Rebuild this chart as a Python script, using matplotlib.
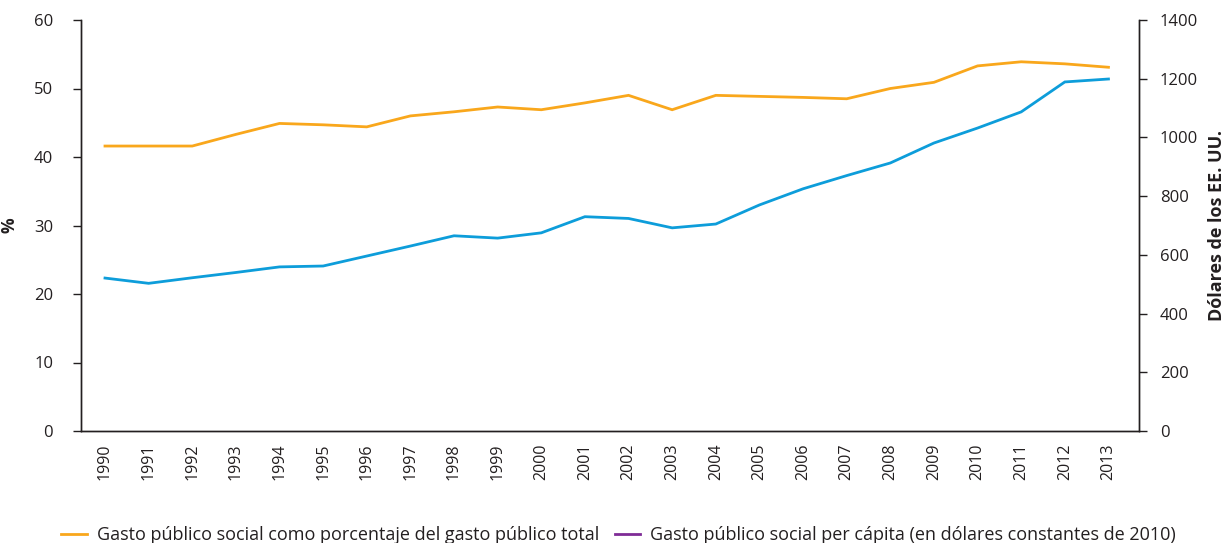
import matplotlib
matplotlib.use("Agg")
import matplotlib.pyplot as plt
from matplotlib.lines import Line2D

plt.rcParams['font.family'] = ['Open Sans', 'DejaVu Sans']

years = [str(y) for y in range(1990, 2014)]

# Gasto público social como porcentaje del gasto público total (%)
share_pct = [41.6, 41.6, 41.6, 43.3, 44.9, 44.7, 44.4, 46.0, 46.6, 47.3, 46.9, 47.9,
             49.0, 46.9, 49.0, 48.85, 48.7, 48.5, 50.0, 50.9, 53.3, 53.9, 53.6, 53.1]

# Gasto público social per cápita (dólares constantes de 2010)
per_capita_usd = [521, 503, 522, 540, 559, 562, 596, 630, 665, 657, 675, 730,
                  724, 692, 705, 770, 825, 870, 913, 981, 1032, 1087, 1189, 1199]

left_ticks = [0, 10, 20, 30, 40, 50, 60]
right_ticks = [0, 200, 400, 600, 800, 1000, 1200, 1400]

label_share = "Gasto público social como porcentaje del gasto público total"
label_pc = "Gasto público social per cápita (en dólares constantes de 2010)"

ORANGE = "#F9A71C"
BLUE = "#0D9DDA"
PURPLE = "#7F2B96"
INK = "#231F20"

fig = plt.figure(figsize=(12.30, 5.43), dpi=100)
ax = fig.add_axes([81 / 1230, 1 - 431 / 543, (1139 - 81) / 1230, (431 - 20) / 543])
ax2 = ax.twinx()

x = list(range(len(years)))
ax.plot(x, share_pct, color=ORANGE, lw=2.0, solid_joinstyle="miter", zorder=3)
ax2.plot(x, per_capita_usd, color=BLUE, lw=2.0, solid_joinstyle="miter", zorder=3)

ax.set_xlim(-0.55, len(years) - 0.3)
ax.set_ylim(0, 60)
ax2.set_ylim(0, 1400)
ax.set_yticks(left_ticks)
ax2.set_yticks(right_ticks)
ax.set_xticks(x)
ax.set_xticklabels(years, rotation=90, fontsize=11.5, color=INK)

for a in (ax, ax2):
    a.spines["top"].set_visible(False)
    for s in a.spines.values():
        s.set_color(INK)
        s.set_linewidth(1.0)
    a.tick_params(axis="y", length=6, width=1.0, colors=INK, labelsize=12)
ax.tick_params(axis="y", pad=14)
ax2.tick_params(axis="y", pad=9)
ax.tick_params(axis="x", length=0, pad=9)

ax.set_ylabel("%", fontsize=12.5, fontweight="bold", color=INK, labelpad=11)
ax2.set_ylabel("Dólares de los EE. UU.", fontsize=13, fontweight="bold", color=INK, labelpad=7)

handles = [Line2D([], [], color=ORANGE, lw=2.0), Line2D([], [], color=PURPLE, lw=2.0)]
fig.legend(handles, [label_share, label_pc], loc="lower center", bbox_to_anchor=(0.503, -0.032),
           ncol=2, frameon=False, fontsize=13, handlelength=1.4, handletextpad=0.55,
           columnspacing=0.9, labelcolor=INK)

fig.savefig("out.png", dpi=100, facecolor="white")
